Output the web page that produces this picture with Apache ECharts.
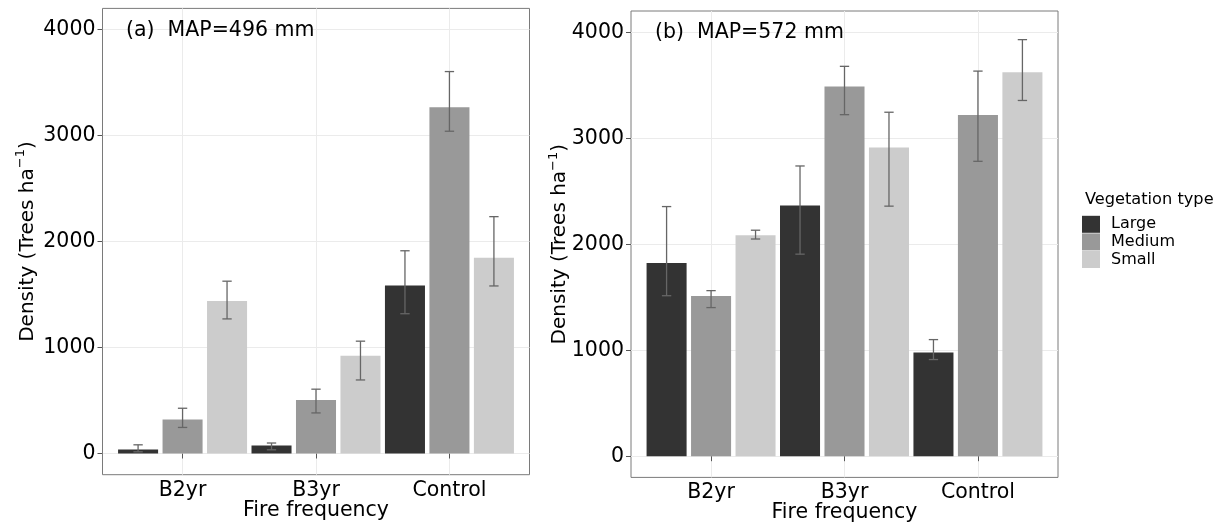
<!DOCTYPE html>
<html><head><meta charset="utf-8">
<script src="https://cdn.jsdelivr.net/npm/echarts@6/dist/echarts.min.js"></script>
<style>html,body{margin:0;padding:0;background:#fff}#c{width:1226px;height:530px}</style>
</head><body><div id="c"></div>
<script>
// ---- data ----
const categories = ['B2yr', 'B3yr', 'Control'];
const vegTypes = ['Large', 'Medium', 'Small'];
const yTicks = [0, 1000, 2000, 3000, 4000];
const panelLabels = ['(a)  MAP=496 mm', '(b)  MAP=572 mm'];
const xTitle = 'Fire frequency';

// Panel (a) MAP=496 mm
const aLarge    = [38, 76, 1585];
const aLargeLo  = [16, 35, 1319];
const aLargeHi  = [82, 99, 1913];
const aMedium   = [322, 506, 3268];
const aMediumLo = [246, 383, 3041];
const aMediumHi = [427, 607, 3604];
const aSmall    = [1440, 922, 1846];
const aSmallLo  = [1270, 694, 1581];
const aSmallHi  = [1626, 1060, 2235];

// Panel (b) MAP=572 mm
const bLarge    = [1823, 2365, 978];
const bLargeLo  = [1514, 1906, 912];
const bLargeHi  = [2355, 2738, 1100];
const bMedium   = [1511, 3487, 3219];
const bMediumLo = [1402, 3222, 2782];
const bMediumHi = [1562, 3678, 3633];
const bSmall    = [2084, 2913, 3621];
const bSmallLo  = [2049, 2359, 3356];
const bSmallHi  = [2132, 3245, 3930];

// ---- style ----
const colors = ['#333333', '#999999', '#cccccc'];
const FONT = 'DejaVu Sans';
const TXT = '#000';
const BAR_W = 0.3, DODGE = 1 / 3, CAP = 0.07;

function renderBar(params, api) {
  const x = api.value(0) + api.value(1);
  const v = api.value(2), lo = api.value(3), hi = api.value(4);
  const tl = api.coord([x - BAR_W / 2, v]);
  const br = api.coord([x + BAR_W / 2, 0]);
  const top = api.coord([x, hi]), bot = api.coord([x, lo]);
  const cl = api.coord([x - CAP / 2, hi])[0], cr = api.coord([x + CAP / 2, hi])[0];
  const es = { stroke: '#666666', lineWidth: 1.3 };
  return { type: 'group', children: [
    { type: 'rect', shape: { x: tl[0], y: tl[1], width: br[0] - tl[0], height: br[1] - tl[1] },
      style: { fill: api.visual('color') } },
    { type: 'line', shape: { x1: top[0], y1: top[1], x2: bot[0], y2: bot[1] }, style: es },
    { type: 'line', shape: { x1: cl, y1: top[1], x2: cr, y2: top[1] }, style: es },
    { type: 'line', shape: { x1: cl, y1: bot[1], x2: cr, y2: bot[1] }, style: es }
  ]};
}

function makeSeries(panel, idx, vals, lo, hi) {
  return {
    type: 'custom', name: vegTypes[idx], xAxisIndex: panel, yAxisIndex: panel,
    itemStyle: { color: colors[idx] }, renderItem: renderBar, encode: { x: 0, y: 2 },
    data: categories.map((c, i) => [i + 1, (idx - 1) * DODGE, vals[i], lo[i], hi[i]])
  };
}

function xAx(gi) {
  return {
    type: 'value', gridIndex: gi, min: 0.4, max: 3.6,
    axisLine: { show: false },
    axisTick: { show: true, customValues: [1, 2, 3], length: 5, lineStyle: { color: '#555', width: 1 } },
    axisLabel: { customValues: [1, 2, 3], formatter: v => categories[Math.round(v) - 1],
      fontSize: 20.5, color: TXT, margin: 5, fontFamily: FONT },
    splitLine: { show: true, lineStyle: { color: '#ebebeb', width: 1 } },
    name: xTitle, nameLocation: 'middle', nameGap: 25, nameMoveOverlap: false,
    nameTextStyle: { fontSize: 20.5, color: TXT, fontFamily: FONT }
  };
}
function yAx(gi, gap) {
  return {
    type: 'value', gridIndex: gi, min: -200, max: 4200,
    axisLine: { show: false },
    axisTick: { show: true, customValues: yTicks, length: 5, lineStyle: { color: '#555', width: 1 } },
    axisLabel: { customValues: yTicks, formatter: v => String(v), fontSize: 20.5, color: TXT, margin: 7, fontFamily: FONT },
    splitLine: { show: true, lineStyle: { color: '#ebebeb', width: 1 } },
    name: 'Density (Trees ha{sup|\u22121})', nameLocation: 'middle', nameGap: gap, nameRotate: 90,
    nameMoveOverlap: false,
    nameTextStyle: { fontSize: 20, color: TXT, fontFamily: FONT, lineHeight: 26,
      rich: { sup: { fontSize: 13, verticalAlign: 'top', lineHeight: 14, color: TXT, fontFamily: FONT } } }
  };
}

const chart = echarts.init(document.getElementById('c'), null, { renderer: 'canvas' });
chart.setOption({
  animation: false,
  backgroundColor: '#ffffff',
  textStyle: { fontFamily: FONT },
  grid: [
    { left: 102.5, top: 8.4, width: 427, height: 466.3, show: true, borderColor: '#7a7a7a', borderWidth: 1 },
    { left: 631, top: 11, width: 427, height: 466.4, show: true, borderColor: '#7a7a7a', borderWidth: 1 }
  ],
  xAxis: [xAx(0), xAx(1)],
  yAxis: [yAx(0, 62), yAx(1, 58)],
  title: { text: 'Vegetation type', left: 1085, top: 191.5, padding: 0,
    textStyle: { fontSize: 16.2, fontWeight: 'normal', color: TXT, fontFamily: FONT } },
  legend: {
    data: vegTypes, orient: 'vertical', left: 1082, top: 215.5, icon: 'rect', padding: 0,
    itemWidth: 18, itemHeight: 17, itemGap: 0,
    textStyle: { fontSize: 16, lineHeight: 17.6, color: TXT, fontFamily: FONT, padding: [0, 0, 0, 6] }
  },
  graphic: [
    { type: 'text', left: 126, top: 20, z: 100, style: { text: panelLabels[0], fontSize: 20.5, fill: TXT, fontFamily: FONT } },
    { type: 'text', left: 655, top: 22, z: 100, style: { text: panelLabels[1], fontSize: 20.5, fill: TXT, fontFamily: FONT } }
  ],
  series: [
    makeSeries(0, 0, aLarge, aLargeLo, aLargeHi),
    makeSeries(0, 1, aMedium, aMediumLo, aMediumHi),
    makeSeries(0, 2, aSmall, aSmallLo, aSmallHi),
    makeSeries(1, 0, bLarge, bLargeLo, bLargeHi),
    makeSeries(1, 1, bMedium, bMediumLo, bMediumHi),
    makeSeries(1, 2, bSmall, bSmallLo, bSmallHi)
  ]
});
</script></body></html>
